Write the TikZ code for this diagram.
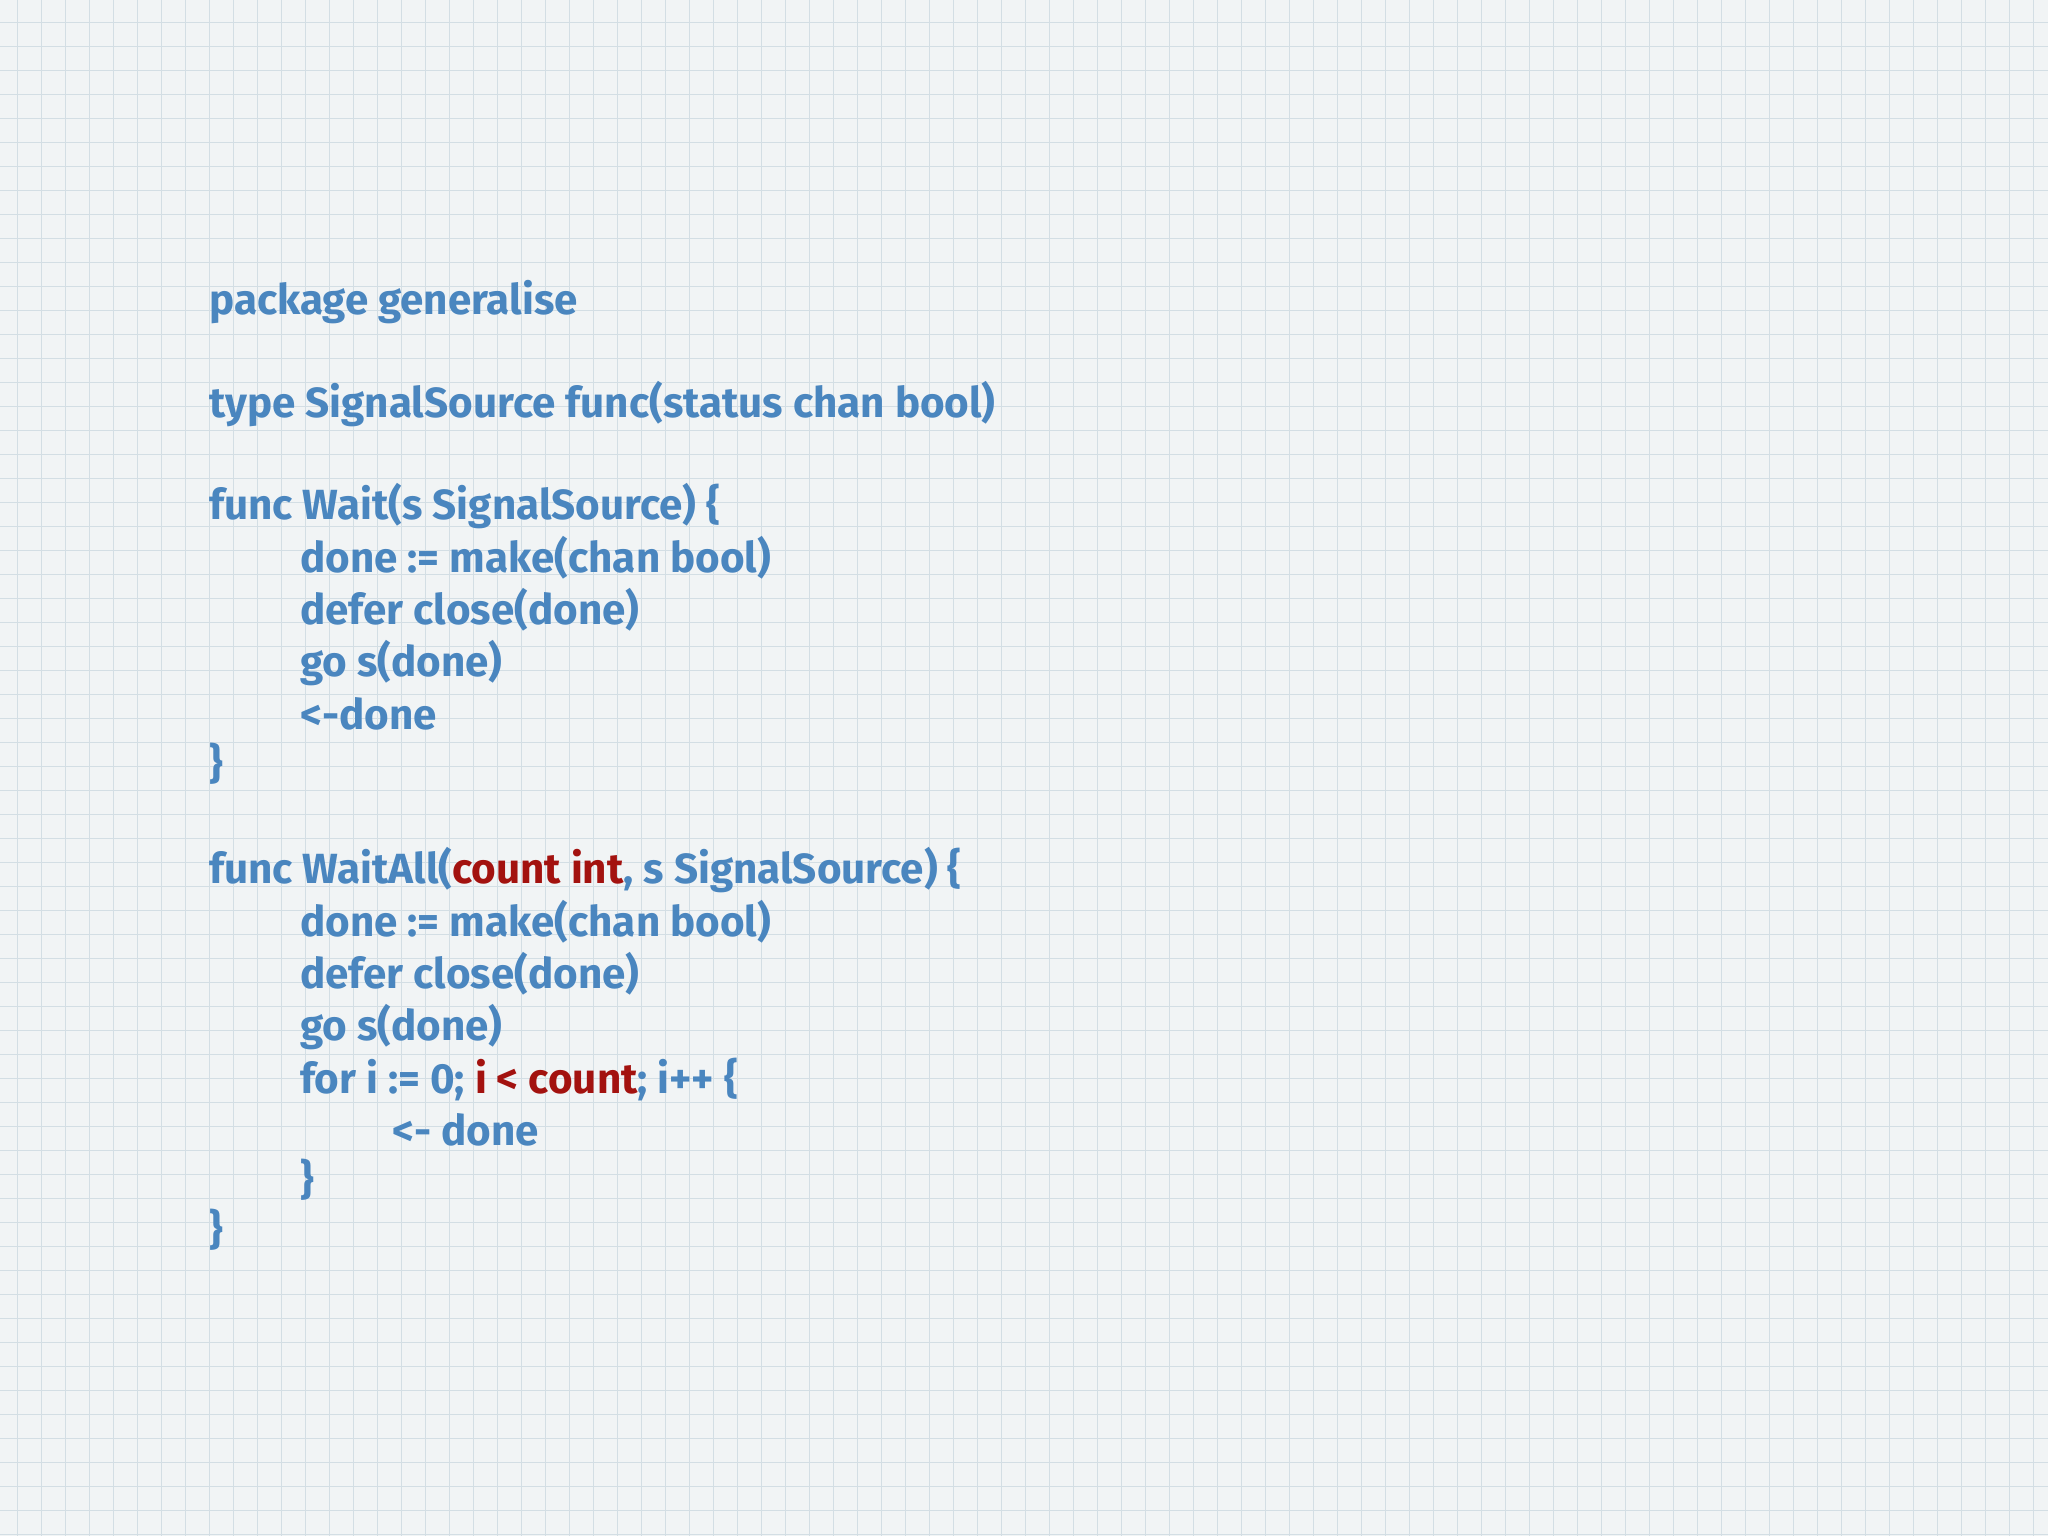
\documentclass[tikz,border=0pt]{standalone}
\usepackage{fontspec}
\setmainfont{Fira Sans}
\definecolor{bg}{HTML}{F1F4F5}
\definecolor{gridc}{HTML}{D3DEE4}
\definecolor{code}{HTML}{4A86BF}
\definecolor{hl}{HTML}{A3120F}
\tikzset{ln/.style={anchor=base west,inner sep=0pt,text=code,font=\fontsize{30}{30}\selectfont\bfseries}}
\begin{document}
\begin{tikzpicture}[x=0.25mm,y=-0.25mm]
\fill[bg] (0,0) rectangle (2048,1536);
\useasboundingbox (0,0) rectangle (2048,1536);
\foreach \i in {0,...,85} {\draw[gridc,line width=0.7pt] (17+24*\i,0) -- (17+24*\i,1536);}
\foreach \j in {0,...,63} {\draw[gridc,line width=0.7pt] (0,22+24*\j) -- (2048,22+24*\j);}
\begin{scope}[yshift=-1.4mm]
\node[ln] (l1) at (209,309) {package generalise};
\node[ln] (l2) at (209,412) {type SignalSource func(status chan bool)};
\node[ln] (l3) at (209,514) {func Wait(s SignalSource) \{};
\node[ln] (l4) at (300,567) {done := make(chan bool)};
\node[ln] (l5) at (300,619) {defer close(done)};
\node[ln] (l6) at (300,671) {go s(done)};
\node[ln] (l7) at (300,724) {<-done};
\node[ln] (l8) at (209,773) {\}};
\node[ln] (l9) at (209,878) {func WaitAll(\textcolor{hl}{count int}, s SignalSource) \{};
\node[ln] (l10) at (300,931) {done := make(chan bool)};
\node[ln] (l11) at (300,983) {defer close(done)};
\node[ln] (l12) at (300,1035) {go s(done)};
\node[ln] (l13) at (300,1088) {for i := 0; \textcolor{hl}{i < count}; i++ \{};
\node[ln] (l14) at (392,1140) {<- done};
\node[ln] (l15) at (300,1189) {\}};
\node[ln] (l16) at (209,1239) {\}};
\end{scope}
\end{tikzpicture}
\end{document}
